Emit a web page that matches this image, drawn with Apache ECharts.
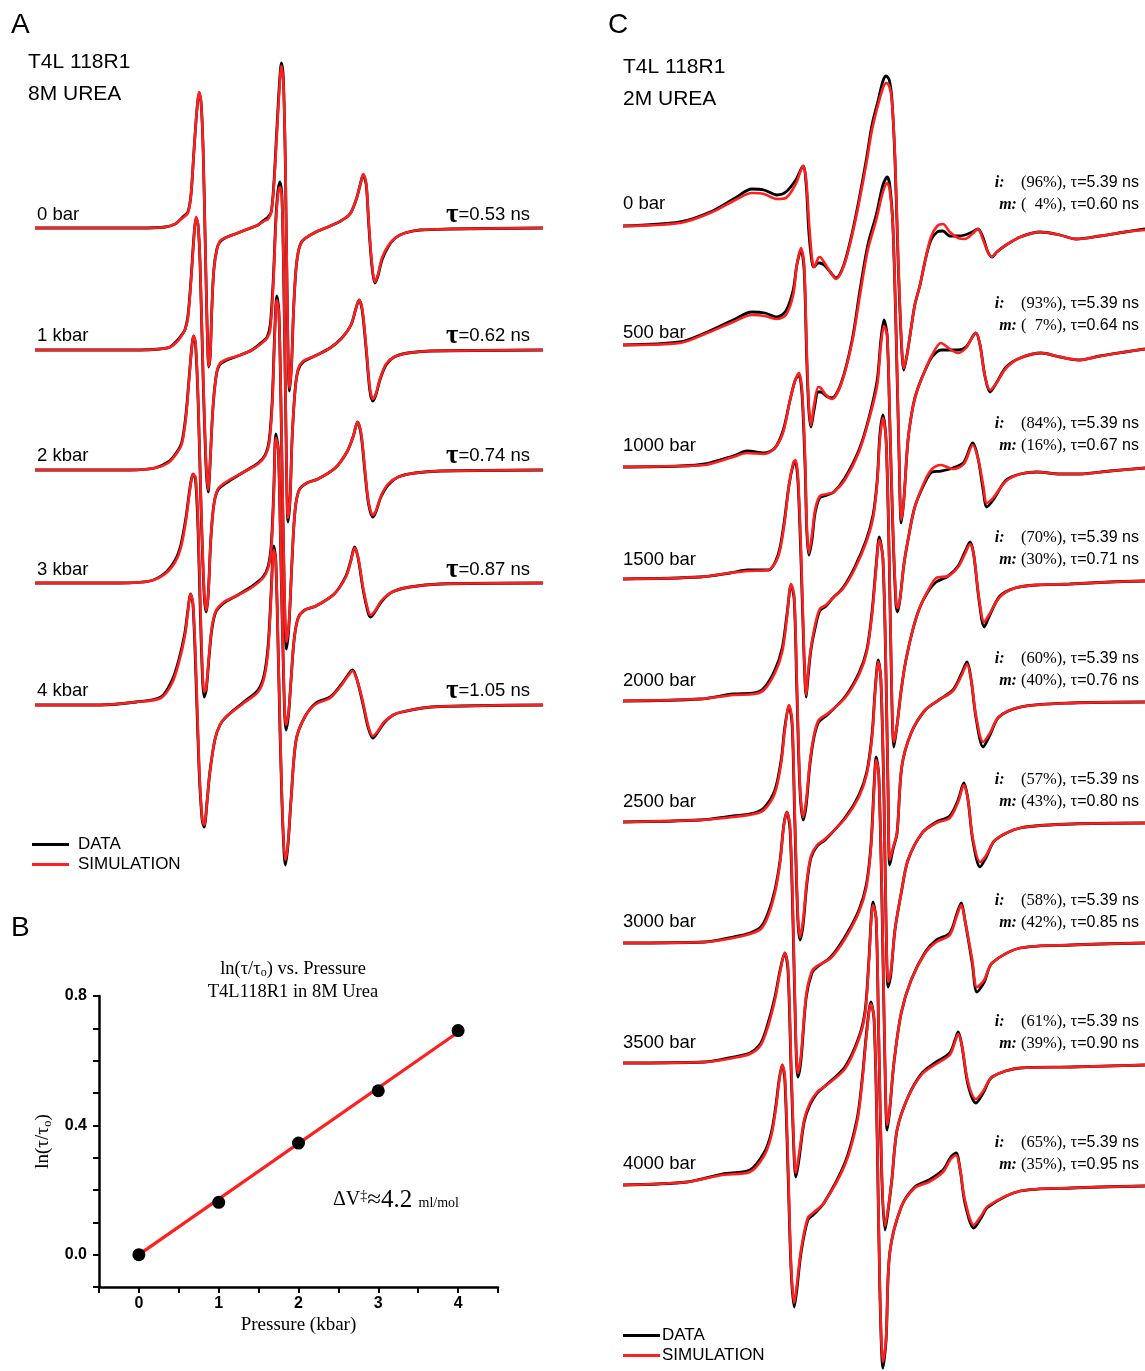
<!DOCTYPE html>
<html><head><meta charset="utf-8">
<script src="https://cdn.jsdelivr.net/npm/echarts@6/dist/echarts.min.js"></script>
<style>html,body{margin:0;padding:0;background:#fff}#chart{width:1145px;height:1371px}</style>
</head><body><div id="chart"></div>
<script>
// ================= DATA =================
// Panel A: T4L 118R1 in 8M urea. Each point: [field offset (G, 100 G scan), DATA amplitude, SIMULATION amplitude] (a.u.)
const aLabels = ['0 bar', '1 kbar', '2 kbar', '3 kbar', '4 kbar'];
const aTau = ['0.53', '0.62', '0.74', '0.87', '1.05'];
const specA0 = [[0,0,0],[20.7,0,0],[25.6,1,1],[27.6,4,4],[28.5,8,8],[29.3,12,11],[30.1,16,15],[30.7,33,33],[31.3,78,78],[31.9,120,120],[32.3,135,136],[32.7,125,125],[33.1,78,78],[33.5,-12,-12],[33.9,-102,-102],[34.2,-139,-138],[34.5,-127,-127],[34.8,-82,-82],[35.2,-42,-42],[35.8,-21,-22],[36.4,-14,-13],[37.4,-10,-10],[39.4,-6,-6],[41.9,-1,-1],[43.9,3,3],[45.1,8,7],[45.9,11,9],[46.5,16,16],[47.0,43,40],[47.6,98,93],[48.1,143,138],[48.5,165,162],[48.9,148,146],[49.3,58,63],[49.7,-92,-87],[50.1,-163,-160],[50.5,-137,-137],[50.9,-82,-82],[51.4,-40,-40],[52.0,-20,-20],[52.8,-12,-12],[55.3,-4,-4],[58.1,2,2],[60.2,7,7],[62.0,14,14],[63.2,28,28],[64.0,43,43],[64.6,53,54],[65.2,43,45],[65.7,3,6],[66.3,-37,-34],[66.9,-55,-54],[67.5,-48,-47],[68.3,-32,-30],[69.5,-19,-18],[70.9,-10,-10],[72.8,-5,-5],[75.8,-2,-2],[81.7,-1,-1],[100,0,0]];
const specA1 = [[0,0,0],[20.7,0,0],[24.6,1,1],[26.6,3,3],[27.9,9,8],[28.7,14,13],[29.5,20,20],[30.1,34,32],[30.7,70,68],[31.3,115,113],[31.7,132,133],[32.1,125,125],[32.5,85,88],[33.1,-30,-25],[33.7,-120,-115],[34.1,-142,-140],[34.4,-120,-120],[35.0,-60,-60],[35.6,-28,-28],[36.2,-16,-15],[37.4,-11,-10],[39.9,-6,-6],[42.7,0,0],[44.7,8,7],[45.7,13,12],[46.3,25,20],[46.9,70,65],[47.4,130,125],[47.8,158,154],[48.2,168,163],[48.6,155,152],[49.0,60,65],[49.4,-80,-75],[49.8,-172,-168],[50.2,-150,-150],[50.6,-90,-90],[51.2,-40,-40],[51.8,-20,-19],[52.8,-12,-11],[55.1,-6,-6],[58.1,2,2],[60.4,12,12],[62.2,25,25],[63.2,42,42],[63.8,50,50],[64.4,40,42],[65.2,0,3],[65.9,-40,-37],[66.5,-51,-49],[67.1,-45,-44],[67.9,-30,-29],[69.1,-15,-14],[70.7,-7,-7],[73.4,-3,-3],[77.8,-1,-1],[100,0,0]];
const specA2 = [[0,0,0],[18.7,0,0],[23.6,2,2],[26.2,8,7],[27.8,17,16],[28.9,28,26],[29.7,55,52],[30.3,90,88],[30.9,125,125],[31.2,134,134],[31.6,125,128],[32.1,70,75],[32.7,-40,-35],[33.3,-125,-120],[33.7,-142,-140],[34.1,-125,-125],[34.6,-70,-70],[35.2,-35,-35],[36.0,-20,-19],[37.6,-13,-12],[41.1,-2,-2],[43.9,7,6],[45.3,15,14],[46.1,30,27],[46.7,70,65],[47.2,140,135],[47.6,174,170],[48.0,160,158],[48.4,70,75],[49.0,-100,-95],[49.5,-179,-172],[50.0,-155,-152],[50.6,-90,-90],[51.2,-40,-40],[52.0,-20,-20],[53.5,-13,-13],[55.7,-9,-9],[59.1,2,2],[61.4,18,18],[62.6,33,33],[63.5,48,48],[64.2,35,37],[65.0,-5,-2],[65.7,-35,-33],[66.5,-47,-45],[67.1,-42,-41],[68.1,-27,-26],[69.5,-15,-14],[71.5,-7,-7],[74.8,-3,-3],[79.7,-1,-1],[100,0,0]];
const specA3 = [[0,0,0],[16.7,0,0],[22.6,2,2],[25.6,10,9],[27.6,23,21],[28.7,38,35],[29.7,65,62],[30.5,95,93],[31.1,109,109],[31.6,103,106],[32.1,53,61],[32.7,-57,-47],[33.3,-114,-109],[33.7,-107,-105],[34.3,-72,-70],[34.8,-47,-45],[35.6,-29,-28],[37.2,-20,-19],[39.6,-13,-13],[42.5,-4,-5],[44.9,6,5],[45.9,17,15],[46.5,38,33],[47.0,93,88],[47.4,149,145],[47.9,133,133],[48.4,23,28],[49.0,-107,-102],[49.4,-147,-142],[49.9,-132,-130],[50.4,-97,-97],[51.0,-57,-57],[51.8,-35,-35],[53.1,-27,-27],[55.3,-23,-23],[58.9,-11,-11],[61.2,7,6],[62.2,23,22],[62.9,36,35],[63.6,25,26],[64.6,-7,-5],[65.6,-30,-28],[66.1,-34,-32],[66.9,-29,-28],[68.3,-18,-17],[70.3,-9,-9],[73.8,-4,-4],[79.7,-1,-1],[100,0,0]];
const specA4 = [[0,0,0],[12.8,0,0],[19.9,3,3],[24.8,8,7],[27.0,25,22],[28.3,45,42],[29.5,72,69],[30.1,95,93],[30.6,111,111],[31.1,100,102],[31.7,25,35],[32.3,-65,-60],[32.9,-115,-113],[33.3,-122,-120],[33.9,-95,-95],[34.4,-68,-68],[35.4,-35,-35],[36.4,-20,-20],[37.6,-12,-12],[41.1,3,2],[43.9,15,13],[45.1,30,27],[45.9,60,55],[46.5,115,110],[47.0,159,155],[47.4,145,145],[48.0,25,30],[48.6,-95,-90],[49.3,-160,-155],[49.8,-140,-138],[50.4,-95,-95],[51.4,-35,-35],[53.1,-12,-12],[55.3,2,1],[58.1,8,7],[60.2,20,19],[61.6,30,29],[62.5,35,34],[63.4,25,25],[64.6,0,2],[65.6,-23,-21],[66.5,-33,-31],[67.5,-27,-26],[68.7,-18,-17],[70.5,-10,-10],[72.2,-7,-7],[78.0,-2,-2],[100,0,0]];

// Panel C: T4L 118R1 in 2M urea. Same point layout.
const cLabels = ['0 bar', '500 bar', '1000 bar', '1500 bar', '2000 bar', '2500 bar', '3000 bar', '3500 bar', '4000 bar'];
const cImmobilePct = [96, 93, 84, 70, 60, 57, 58, 61, 65];
const cMobilePct = [4, 7, 16, 30, 40, 43, 42, 39, 35];
const cTauImmobile = '5.39';
const cTauMobile = ['0.60', '0.64', '0.67', '0.71', '0.76', '0.80', '0.85', '0.90', '0.95'];
const specC0 = [[0,0,0],[10.9,4,3],[16.7,14,13],[21.5,28,26],[24.7,37,33],[27.0,36,32],[29.5,31,27],[31.2,34,28],[33.1,46,42],[34.5,60,60],[35.1,41,46],[35.6,-6,6],[36.2,-36,-32],[36.6,-41,-41],[37.4,-37,-32],[37.7,-37,-31],[38.5,-39,-36],[39.7,-46,-46],[40.8,-52,-53],[42.3,-39,-40],[43.9,-7,-9],[45.2,26,23],[46.6,66,62],[47.7,101,96],[48.9,126,122],[49.8,145,138],[50.4,150,143],[51.0,146,140],[51.5,128,126],[52.1,66,71],[52.7,-34,-29],[53.3,-114,-109],[53.8,-144,-142],[54.4,-129,-129],[55.0,-109,-109],[55.9,-79,-79],[56.9,-59,-59],[58.0,-32,-32],[59.0,-14,-11],[60.2,-6,0],[61.3,-5,2],[62.6,-10,-6],[64.2,-10,-12],[65.5,-9,-13],[66.9,-6,-8],[68.0,-3,-3],[69.0,-12,-14],[69.9,-26,-26],[70.7,-31,-31],[71.6,-26,-26],[73.4,-19,-19],[76.1,-11,-11],[79.9,-6,-6],[83.7,-9,-9],[86.8,-13,-13],[91.4,-10,-10],[96.2,-6,-6],[100,-3,-4]];
const specC500 = [[0,0,0],[10.9,3,2],[15.7,12,11],[21.1,25,23],[24.7,33,30],[27.2,32,29],[29.5,28,26],[31.2,34,30],[32.6,55,50],[33.3,80,80],[34.1,95,97],[34.7,75,80],[35.2,-15,-5],[35.6,-65,-60],[36.0,-82,-80],[36.6,-65,-60],[37.4,-47,-42],[37.9,-47,-43],[38.9,-51,-50],[40.0,-53,-54],[41.8,-38,-39],[43.9,5,3],[45.4,55,50],[46.9,100,95],[48.5,130,125],[49.8,160,153],[50.6,168,162],[51.1,160,155],[51.7,120,120],[52.3,15,20],[52.9,-115,-110],[53.3,-178,-175],[53.8,-155,-155],[54.6,-95,-95],[55.6,-60,-60],[56.5,-43,-43],[57.9,-25,-25],[59.2,-12,-10],[60.9,-5,2],[62.6,-5,-4],[64.2,-5,-8],[65.7,-2,-3],[67.6,12,12],[68.4,0,0],[69.3,-30,-30],[70.3,-47,-45],[71.3,-40,-40],[73.4,-22,-23],[76.1,-13,-13],[80.1,-8,-8],[83.7,-12,-12],[87.4,-15,-15],[91.4,-11,-11],[96.2,-7,-7],[100,-4,-4]];
const specC1000 = [[0,0,0],[10.9,1,1],[15.7,3,2],[21.1,11,10],[23.8,16,14],[27.0,14,13],[29.1,19,19],[30.7,37,35],[32.0,67,67],[33.0,87,87],[33.7,92,94],[34.3,72,77],[34.9,-3,7],[35.2,-63,-58],[35.6,-88,-86],[36.2,-73,-68],[36.8,-46,-43],[37.7,-31,-29],[39.1,-28,-27],[40.4,-25,-25],[42.5,-11,-13],[45.2,17,15],[47.1,49,47],[48.7,87,82],[49.4,127,122],[50.0,147,141],[50.6,132,132],[51.1,47,52],[51.7,-63,-58],[52.3,-138,-133],[52.6,-145,-141],[53.1,-131,-131],[53.8,-98,-98],[54.6,-73,-73],[55.9,-40,-40],[57.9,-15,-13],[59.2,-5,-2],[60.9,-4,2],[63.2,-1,-2],[65.3,5,3],[67.0,24,22],[68.0,9,9],[69.0,-23,-18],[69.7,-40,-36],[70.9,-33,-31],[73.4,-13,-14],[76.1,-7,-7],[79.3,-5,-5],[83.7,-7,-7],[87.5,-7,-7],[93.3,-4,-4],[100,-1,-1]];
const specC1500 = [[0,0,0],[14.8,2,2],[20.5,6,6],[23.9,9,8],[27.8,9,9],[29.7,24,22],[30.8,54,51],[31.8,94,94],[32.6,114,116],[33.0,117,119],[33.5,99,104],[34.1,19,29],[34.7,-81,-76],[35.1,-118,-116],[35.4,-101,-96],[36.0,-71,-69],[36.8,-49,-46],[37.7,-32,-30],[38.9,-27,-26],[40.2,-19,-19],[42.1,-9,-10],[44.4,12,10],[46.6,39,37],[47.9,64,61],[48.7,99,96],[49.2,144,139],[49.8,164,161],[50.4,139,139],[51.0,19,24],[51.5,-121,-116],[51.9,-168,-163],[52.5,-146,-146],[53.3,-111,-111],[54.2,-81,-81],[55.6,-49,-49],[56.9,-28,-28],[58.4,-13,-12],[60.0,-3,1],[62.3,3,3],[64.2,13,12],[65.5,27,25],[66.5,37,35],[67.2,24,24],[68.2,-21,-19],[69.2,-48,-43],[70.1,-38,-36],[72.2,-17,-18],[75.1,-9,-9],[79.3,-6,-6],[85.6,-5,-5],[93.3,-3,-3],[100,-2,-2]];
const specC2000 = [[0,0,0],[14.8,2,2],[21.1,7,6],[25.1,8,7],[27.0,13,11],[29.1,31,28],[30.5,53,49],[31.4,86,83],[32.2,116,117],[32.8,101,105],[33.3,11,21],[33.9,-89,-84],[34.5,-119,-116],[35.1,-104,-99],[35.8,-64,-61],[36.6,-36,-34],[37.5,-21,-19],[39.1,-14,-13],[42.5,4,3],[45.2,28,26],[46.7,51,49],[47.7,89,86],[48.5,136,133],[49.1,164,161],[49.8,141,143],[50.4,21,26],[50.8,-99,-94],[51.1,-164,-159],[51.7,-149,-147],[52.5,-132,-132],[53.4,-66,-66],[55.2,-32,-32],[57.9,-9,-9],[60.5,1,1],[63.2,11,10],[64.9,28,26],[65.9,39,37],[66.7,21,21],[67.6,-16,-14],[69.0,-46,-41],[70.3,-34,-32],[72.0,-16,-16],[76.1,-6,-6],[86.0,-2,-2],[100,-1,-1]];
const specC2500 = [[0,0,0],[14.8,2,2],[21.1,6,5],[25.1,9,8],[27.0,14,12],[29.1,32,29],[30.3,62,59],[31.0,95,92],[31.8,116,117],[32.4,97,102],[32.9,2,12],[33.5,-98,-93],[33.9,-118,-115],[34.5,-103,-98],[35.2,-63,-60],[36.0,-36,-34],[37.2,-24,-23],[38.7,-18,-17],[42.5,4,3],[45.2,27,25],[46.7,50,48],[47.7,87,84],[48.3,132,129],[48.9,162,160],[49.4,142,144],[50.0,22,27],[50.4,-103,-98],[50.8,-165,-160],[51.3,-153,-150],[52.1,-108,-108],[53.3,-71,-71],[54.6,-38,-38],[57.3,-11,-11],[60.0,0,-1],[62.6,6,4],[64.2,22,20],[65.3,39,37],[66.1,22,22],[67.0,-18,-16],[68.4,-45,-40],[69.5,-36,-34],[71.3,-18,-18],[76.1,-6,-6],[86.0,-2,-2],[100,-1,-1]];
const specC3000 = [[0,0,0],[15.7,1,1],[21.1,6,5],[24.3,10,9],[26.4,16,14],[27.8,30,27],[29.1,53,50],[30.1,83,81],[30.8,118,117],[31.4,131,131],[32.0,113,118],[32.6,13,23],[33.1,-97,-92],[33.5,-134,-130],[34.1,-117,-112],[35.1,-54,-52],[36.2,-30,-28],[37.2,-24,-23],[39.8,-14,-15],[42.5,6,4],[45.2,33,31],[46.6,58,55],[47.5,98,95],[48.1,158,153],[48.5,186,183],[49.0,168,168],[49.6,43,48],[50.2,-127,-122],[50.6,-187,-182],[51.1,-167,-165],[51.9,-120,-120],[53.3,-70,-70],[55.2,-37,-37],[57.9,-9,-10],[60.0,3,1],[62.6,10,8],[64.0,30,28],[64.8,40,38],[65.5,23,23],[66.9,-20,-17],[67.8,-49,-44],[69.2,-39,-37],[70.7,-20,-20],[76.1,-5,-5],[86.0,-2,-2],[100,0,0]];
const specC3500 = [[0,0,0],[15.7,1,1],[21.1,6,5],[24.3,10,9],[26.4,20,18],[27.8,40,37],[29.1,66,63],[30.1,93,91],[31.0,110,110],[31.6,93,98],[32.2,-7,3],[32.8,-97,-92],[33.1,-114,-110],[33.7,-97,-92],[34.7,-59,-57],[35.8,-42,-40],[37.2,-30,-29],[38.5,-24,-24],[42.5,-4,-6],[45.2,26,24],[46.4,53,50],[47.1,103,100],[47.9,161,158],[48.5,143,145],[49.0,23,28],[49.6,-117,-112],[50.2,-167,-163],[50.8,-147,-145],[51.5,-117,-117],[52.5,-67,-67],[54.6,-34,-34],[57.3,-10,-11],[60.0,1,-1],[62.6,10,8],[63.6,23,21],[64.2,31,29],[64.9,18,18],[66.1,-22,-19],[67.6,-40,-36],[69.0,-30,-28],[70.7,-14,-14],[76.1,-5,-5],[86.0,-4,-4],[100,-2,-2]];
const specC4000 = [[0,0,0],[12.3,3,3],[19.0,11,10],[24.3,15,13],[27.0,32,29],[28.4,52,49],[29.3,80,77],[29.9,105,103],[30.5,120,120],[31.0,105,110],[31.6,15,25],[32.2,-85,-80],[32.8,-122,-118],[33.3,-105,-100],[34.1,-68,-65],[35.4,-35,-33],[36.4,-30,-28],[38.5,-18,-18],[42.5,22,20],[44.8,65,62],[45.8,105,102],[46.7,155,152],[47.5,183,181],[48.1,165,167],[48.7,45,50],[49.2,-105,-100],[49.8,-183,-177],[50.4,-155,-153],[51.1,-68,-68],[53.3,-22,-22],[55.9,-2,-3],[58.6,5,3],[61.3,15,13],[62.8,28,26],[63.8,32,30],[64.6,15,15],[65.5,-18,-15],[67.2,-43,-40],[68.6,-33,-31],[69.9,-22,-21],[76.1,-6,-6],[86.0,-3,-3],[100,-1,-1]];

// Panel B: ln(tau/tau0) vs pressure
const pressureKbar = [0, 1, 2, 3, 4];
const lnTauRatio = [0.0, 0.162, 0.345, 0.507, 0.693];
const fitPressure = [0, 4];
const fitLnTau = [0.0, 0.688];

const specsA = [specA0, specA1, specA2, specA3, specA4];
const specsC = [specC0, specC500, specC1000, specC1500, specC2000, specC2500, specC3000, specC3500, specC4000];

// ================= LAYOUT =================
const SANS = '"Liberation Sans", Arial, Helvetica, sans-serif';
const SERIF = '"Liberation Serif", "Times New Roman", serif';
const RED = '#ff1f1f';
const aBase = [228, 350, 470, 583, 705];
const cBase = [226, 345, 467, 579, 701, 822, 943, 1063, 1185];
const aLabelY = [215, 336, 456, 570, 691];
const cLabelY = [204, 333, 446, 560, 681, 802, 922, 1043, 1164];
const cInfoY = [183, 304, 424, 538, 659, 780, 901, 1022, 1143];
const HALF = 200;

const grids = [], xAxes = [], yAxes = [], blackS = [], redS = [];
function addTrace(left, width, base, spec) {
  const gi = grids.length;
  grids.push({left: left, width: width, top: base - HALF, height: 2 * HALF, outerBoundsMode: 'none', containLabel: false});
  xAxes.push({gridIndex: gi, type: 'value', min: 0, max: 100, show: false});
  yAxes.push({gridIndex: gi, type: 'value', min: -HALF, max: HALF, show: false});
  const common = {type: 'line', xAxisIndex: gi, yAxisIndex: gi, symbol: 'none', showSymbol: false, smooth: 0.3, clip: false, silent: true};
  blackS.push(Object.assign({}, common, {name: 'DATA', data: spec.map(p => [p[0], p[1]]), lineStyle: {color: '#000', width: 2.8}, itemStyle: {color: '#000'}, z: 2}));
  redS.push(Object.assign({}, common, {name: 'SIMULATION', data: spec.map(p => [p[0], p[2]]), lineStyle: {color: RED, width: 2.6}, itemStyle: {color: RED}, z: 3}));
}
specsA.forEach((s, i) => addTrace(35, 508, aBase[i], s));
specsC.forEach((s, i) => addTrace(623, 522, cBase[i], s));

// Panel B grid
const gB = grids.length;
grids.push({left: 99, top: 996, width: 399, height: 291, outerBoundsMode: 'none', containLabel: false});
xAxes.push({
  gridIndex: gB, type: 'value', min: -0.5, max: 4.5, interval: 0.5,
  axisLine: {onZero: false, lineStyle: {color: '#000', width: 2.5}},
  axisTick: {length: 6, lineStyle: {color: '#000', width: 2}},
  splitLine: {show: false},
  axisLabel: {color: '#000', fontFamily: SANS, fontWeight: 'bold', fontSize: 16, margin: 9,
    formatter: v => Math.abs(v - Math.round(v)) < 1e-6 ? String(Math.round(v)) : ''},
  name: 'Pressure (kbar)', nameLocation: 'middle', nameGap: 29,
  nameTextStyle: {color: '#000', fontFamily: SERIF, fontSize: 19}
});
yAxes.push({
  gridIndex: gB, type: 'value', min: -0.1, max: 0.8, interval: 0.1,
  axisLine: {onZero: false, lineStyle: {color: '#000', width: 2.5}},
  axisTick: {length: 6, lineStyle: {color: '#000', width: 2}},
  splitLine: {show: false},
  axisLabel: {color: '#000', fontFamily: SANS, fontWeight: 'bold', fontSize: 16, margin: 12,
    formatter: v => { const r = Math.round(v * 10); return (r >= 0 && r % 4 === 0) ? (r / 10).toFixed(1) : ''; }},
  name: '{a|ln(τ/τ}{s|o}{a|)}', nameLocation: 'middle', nameGap: 45, nameRotate: 90,
  nameTextStyle: {color: '#000', rich: {
    a: {fontFamily: SERIF, fontSize: 19, color: '#000'},
    s: {fontFamily: SERIF, fontSize: 13, color: '#000', padding: [9, 0, 0, 0]}
  }}
});
const seriesB = [
  {type: 'line', name: 'fit', xAxisIndex: gB, yAxisIndex: gB, data: fitPressure.map((p, i) => [p, fitLnTau[i]]),
   symbol: 'none', lineStyle: {color: RED, width: 3.2}, z: 4, silent: true},
  {type: 'scatter', name: 'points', xAxisIndex: gB, yAxisIndex: gB, data: pressureKbar.map((p, i) => [p, lnTauRatio[i]]),
   symbolSize: 13, itemStyle: {color: '#000', opacity: 1}, z: 5, silent: true}
];

// ================= TEXT =================
const g = [];
function txt(x, y, text, font, extra) {
  g.push({type: 'text', x: x, y: y, silent: true,
    style: Object.assign({text: text, font: font, fill: '#000', align: 'left', verticalAlign: 'middle'}, extra || {})});
}
txt(11, 25, 'A', '28px ' + SANS);
txt(11, 928, 'B', '28px ' + SANS);
txt(608, 25, 'C', '28px ' + SANS);
txt(28, 62, 'T4L 118R1', '21px ' + SANS);
txt(28, 94, '8M UREA', '21px ' + SANS);
txt(623, 67, 'T4L 118R1', '21px ' + SANS);
txt(623, 99, '2M UREA', '21px ' + SANS);

aLabels.forEach((l, i) => {
  txt(37, aLabelY[i], l, '18.5px ' + SANS);
  txt(530, aLabelY[i], '{t|τ}{h|=' + aTau[i] + ' ns}', '18.5px ' + SANS, {align: 'right', rich: {
    t: {fontFamily: SERIF, fontSize: 27, fontWeight: 'bold', fill: '#000'},
    h: {fontFamily: SANS, fontSize: 18.5, fill: '#000'}
  }});
});
const infoRich = {
  ib: {fontFamily: SERIF, fontSize: 16, fontStyle: 'italic', fontWeight: 'bold', fill: '#000'},
  tm: {fontFamily: SERIF, fontSize: 16.5, fill: '#000'},
  hv: {fontFamily: SANS, fontSize: 16, fill: '#000'}
};
cLabels.forEach((l, i) => {
  txt(623, cLabelY[i], l, '18.5px ' + SANS);
  const mp = cMobilePct[i] < 10 ? '(  ' + cMobilePct[i] + '%), τ' : '(' + cMobilePct[i] + '%), τ';
  txt(1139, cInfoY[i], '{ib|i:}{tm|    (' + cImmobilePct[i] + '%), τ}{hv|=' + cTauImmobile + ' ns}', '16px ' + SANS, {align: 'right', rich: infoRich});
  txt(1139, cInfoY[i] + 22, '{ib|m:}{tm| ' + mp + '}{hv|=' + cTauMobile[i] + ' ns}', '16px ' + SANS, {align: 'right', rich: infoRich});
});
// Panel B title and annotation
txt(293, 969, '{a|ln(τ/τ}{s|o}{a|) vs. Pressure}', '18px ' + SERIF, {align: 'center', rich: {
  a: {fontFamily: SERIF, fontSize: 18.5, fill: '#000'},
  s: {fontFamily: SERIF, fontSize: 12, fill: '#000', padding: [8, 0, 0, 0]}
}});
txt(293, 992, 'T4L118R1 in 8M Urea', '18.5px ' + SERIF, {align: 'center'});
txt(333, 1200, '{a|ΔV}{u|‡}{b|≈4.2 }{c|ml/mol}', '18px ' + SERIF, {rich: {
  a: {fontFamily: SERIF, fontSize: 20, fill: '#000'},
  u: {fontFamily: SERIF, fontSize: 14, fill: '#000', padding: [0, 0, 8, 0]},
  b: {fontFamily: SERIF, fontSize: 25, fill: '#000'},
  c: {fontFamily: SERIF, fontSize: 14, fill: '#000', padding: [7, 0, 0, 0]}
}});

const legendCommon = {orient: 'vertical', icon: 'rect', itemWidth: 37, itemHeight: 3, itemGap: 3, selectedMode: false,
  data: ['DATA', 'SIMULATION']};

const chart = echarts.init(document.getElementById('chart'), null, {renderer: 'canvas'});
chart.setOption({
  animation: false,
  backgroundColor: '#fff',
  grid: grids, xAxis: xAxes, yAxis: yAxes,
  legend: [
    Object.assign({}, legendCommon, {left: 27, top: 831, textStyle: {color: '#000', fontFamily: SANS, fontSize: 17, padding: [0, 0, 0, 4]}}),
    Object.assign({}, legendCommon, {left: 618, top: 1322, textStyle: {color: '#000', fontFamily: SANS, fontSize: 17, padding: [0, 0, 0, -3]}})
  ],
  series: blackS.concat(redS, seriesB),
  graphic: g
});
</script></body></html>
